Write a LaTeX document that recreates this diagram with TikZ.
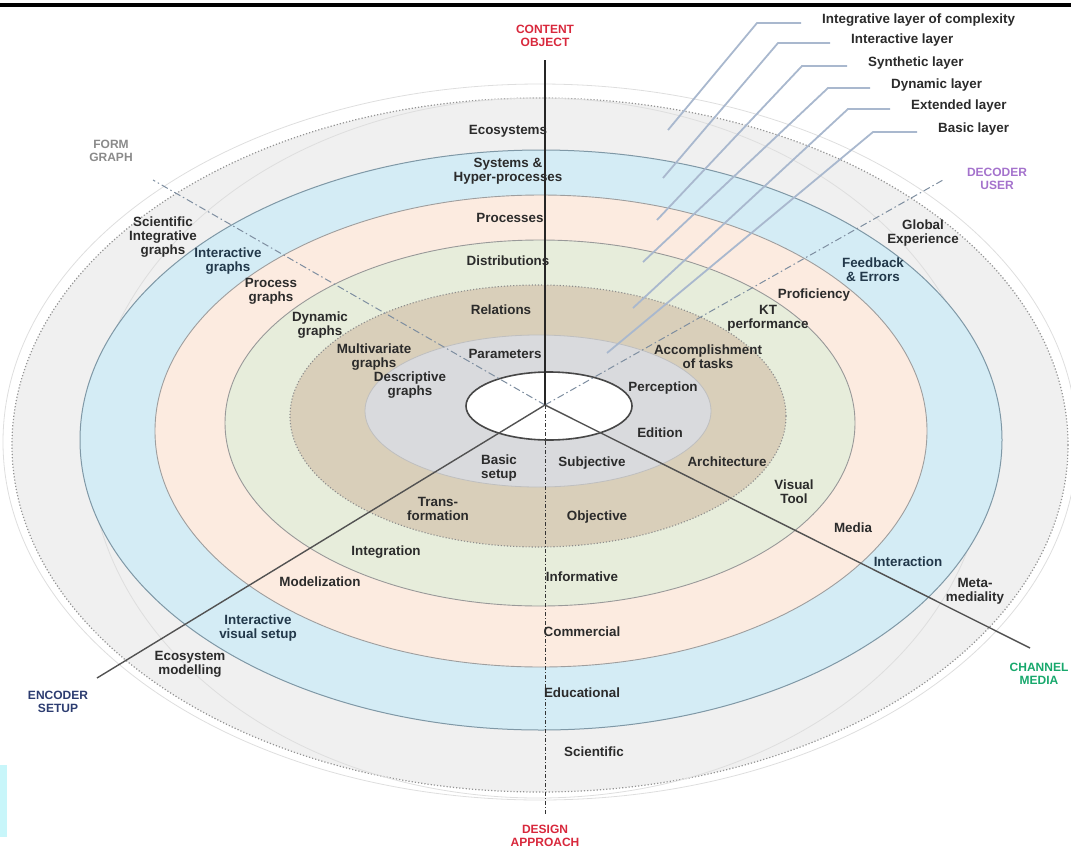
\documentclass[tikz,border=0pt]{standalone}
\usepackage{fontspec}
\setmainfont{Liberation Sans}
\usetikzlibrary{positioning}

\definecolor{ringout}{HTML}{F0F0F0}
\definecolor{ringblue}{HTML}{D4ECF5}
\definecolor{ringpeach}{HTML}{FCEBE0}
\definecolor{ringgreen}{HTML}{E7EDDB}
\definecolor{ringtan}{HTML}{D9CFBA}
\definecolor{ringgray}{HTML}{D9DADD}
\definecolor{blueedge}{HTML}{7F98A6}
\definecolor{bluetext}{HTML}{22384A}
\definecolor{axred}{HTML}{D8283C}
\definecolor{axnavy}{HTML}{2C3C70}
\definecolor{axpurple}{HTML}{A472CC}
\definecolor{axgreen}{HTML}{17A86C}
\definecolor{axgray}{HTML}{8A8A8A}
\definecolor{leadblue}{HTML}{A9B8CE}
\definecolor{dashaxis}{HTML}{7E8EA0}
\definecolor{edgecyan}{HTML}{C8F6FA}

\tikzset{
  ringlbl/.style={font=\bfseries\fontsize{13.4}{14}\selectfont, text=black!83, align=center, inner sep=0pt},
  bluelbl/.style={ringlbl, text=bluetext},
  axlbl/.style={font=\bfseries\fontsize{12}{13.5}\selectfont, align=center, inner sep=0pt},
  layerlbl/.style={font=\bfseries\fontsize{13.4}{14}\selectfont, text=black!83, inner sep=0pt, anchor=base west},
  leader/.style={draw=leadblue, line width=1.8pt, shorten >=21pt},
  formaxis/.style={draw=dashaxis, line width=1pt, dash pattern=on 7pt off 3pt on 1.5pt off 3pt},
  mainaxis/.style={draw=black!68, line width=1.4pt},
  designaxis/.style={draw=black!80, line width=1pt, dash pattern=on 4pt off 2pt on 1pt off 2pt},
  ghost/.style={draw=black!13, line width=0.8pt},
  ringoutst/.style={fill=ringout, draw=black!42, dotted, line width=1.2pt},
  ringbluest/.style={fill=ringblue, draw=blueedge, line width=1pt},
  ringpeachst/.style={fill=ringpeach, draw=black!38, line width=0.9pt},
  ringgreenst/.style={fill=ringgreen, draw=black!40, line width=0.9pt},
  ringtanst/.style={fill=ringtan, draw=black!45, dotted, line width=1.1pt},
  ringgrayst/.style={fill=ringgray, draw=black!25, line width=0.8pt},
  corest/.style={fill=white, draw=black!72, line width=1.6pt},
}

\begin{document}
\begin{tikzpicture}[x=1pt,y=-1pt]
  \useasboundingbox (0,0) rectangle (1071,852);
  \def\ox{545}
  \def\oy{405}

  % Page edges
  \fill[black] (0,3) rectangle (1071,7);
  \fill[edgecyan] (0,765) rectangle (7,837);

  % Rings
  \filldraw[ringoutst] (540,445) ellipse [x radius=528, y radius=347];
  \draw[ghost] (540,442) ellipse [x radius=537, y radius=358];
  \draw[ghost] (538,448) ellipse [x radius=449, y radius=350];
  \filldraw[ringbluest] (541,440) ellipse [x radius=461, y radius=290];
  \filldraw[ringpeachst] (541,431) ellipse [x radius=386, y radius=236];
  \filldraw[ringgreenst] (540,423) ellipse [x radius=315, y radius=183];
  \filldraw[ringtanst] (538,416) ellipse [x radius=248, y radius=131];
  \filldraw[ringgrayst] (538,411) ellipse [x radius=173, y radius=76];
  \filldraw[corest] (549,406) ellipse [x radius=83, y radius=34];

  % Axes
  \coordinate (O) at (\ox,\oy);
  \coordinate (ctop) at (\ox,60);
  \coordinate (cbot) at (\ox,815);
  \coordinate (fend) at (153,180);
  \coordinate (dend) at (943,180);
  \coordinate (eend) at (97,678);
  \coordinate (chend) at (1030,648);
  \draw[formaxis] (O) -- (fend);
  \draw[formaxis] (O) -- (dend);
  \draw[mainaxis, draw=black!85, line width=1.2pt] (O) -- (ctop);
  \draw[designaxis] (O) -- (cbot);
  \draw[mainaxis] (O) -- (eend);
  \draw[mainaxis] (O) -- (chend);

  \node[axlbl, text=axred] (cont) at (545,36) {CONTENT\\OBJECT};
  \node[axlbl, text=axgray] (form) at (111,151) {FORM\\GRAPH};
  \node[axlbl, text=axpurple] (deco) at (997,179) {DECODER\\USER};
  \node[axlbl, text=axnavy] (enco) at (58,702) {ENCODER\\SETUP};
  \node[axlbl, text=axgreen] (chan) at (1039,674) {CHANNEL\\MEDIA};
  \node[axlbl, text=axred] (desi) at (545,836) {DESIGN\\APPROACH};

  % Layers
  \node[layerlbl] (lint) at (822,23) {Integrative layer of complexity};
  \node[layerlbl] (lact) at (851,43) {Interactive layer};
  \node[layerlbl] (lsyn) at (868,66) {Synthetic layer};
  \node[layerlbl] (ldyn) at (891,88) {Dynamic layer};
  \node[layerlbl] (lext) at (911,109) {Extended layer};
  \node[layerlbl] (lbas) at (938,132) {Basic layer};
  \coordinate (kint) at (757,23);  \coordinate (eint) at (668,130);
  \coordinate (kact) at (778,43);  \coordinate (eact) at (663,178);
  \coordinate (ksyn) at (802,66);  \coordinate (esyn) at (657,220);
  \coordinate (kdyn) at (828,88);  \coordinate (edyn) at (643,262);
  \coordinate (kext) at (848,109); \coordinate (eext) at (633,308);
  \coordinate (kbas) at (873,132); \coordinate (ebas) at (607,353);
  \draw[leader] (eint) -- (kint) -- (lint.base west);
  \draw[leader] (eact) -- (kact) -- (lact.base west);
  \draw[leader] (esyn) -- (ksyn) -- (lsyn.base west);
  \draw[leader] (edyn) -- (kdyn) -- (ldyn.base west);
  \draw[leader] (eext) -- (kext) -- (lext.base west);
  \draw[leader] (ebas) -- (kbas) -- (lbas.base west);

  % Outer ring
  \node[ringlbl] (eco) at (508,131) {Ecosystems};
  \node[ringlbl] (scig) at (163,237) {Scientific\\Integrative\\graphs};
  \node[ringlbl] (glob) at (923,233) {Global\\Experience};
  \node[ringlbl] (meta) at (975,591) {Meta-\\mediality};
  \node[ringlbl] (ecom) at (190,664) {Ecosystem\\modelling};
  \node[ringlbl] (sci) at (594,752) {Scientific};
  % Blue ring
  \node[ringlbl] (sys) at (508,171) {Systems \&\\Hyper-processes};
  \node[bluelbl] (intg) at (228,261) {Interactive\\graphs};
  \node[bluelbl] (feed) at (873,270) {Feedback\\\& Errors};
  \node[bluelbl] (inter) at (908,562) {Interaction};
  \node[bluelbl] (ivs) at (258,628) {Interactive\\visual setup};
  \node[ringlbl] (edu) at (582,693) {Educational};
  % Peach ring
  \node[ringlbl] (proc) at (510,218) {Processes};
  \node[ringlbl] (procg) at (271,291) {Process\\graphs};
  \node[ringlbl] (prof) at (814,295) {Proficiency};
  \node[ringlbl] (media) at (853,528) {Media};
  \node[ringlbl] (model) at (320,582) {Modelization};
  \node[ringlbl] (comm) at (582,632) {Commercial};
  % Green ring
  \node[ringlbl] (dist) at (508,261) {Distributions};
  \node[ringlbl] (dyng) at (320,325) {Dynamic\\graphs};
  \node[ringlbl] (ktp) at (768,318) {KT\\performance};
  \node[ringlbl] (vis) at (794,492) {Visual\\Tool};
  \node[ringlbl] (integ) at (386,552) {Integration};
  \node[ringlbl] (info) at (582,577) {Informative};
  % Tan ring
  \node[ringlbl] (rel) at (501,310) {Relations};
  \node[ringlbl] (mvg) at (374,357) {Multivariate\\graphs};
  \node[ringlbl] (acc) at (708,357) {Accomplishment\\of tasks};
  \node[ringlbl] (arch) at (727,462) {Architecture};
  \node[ringlbl] (trans) at (438,509) {Trans-\\formation};
  \node[ringlbl] (obj) at (597,517) {Objective};
  % Gray ring
  \node[ringlbl] (par) at (505,354) {Parameters};
  \node[ringlbl] (desc) at (410,385) {Descriptive\\graphs};
  \node[ringlbl] (perc) at (663,388) {Perception};
  \node[ringlbl] (edit) at (660,433) {Edition};
  \node[ringlbl] (bas) at (499,468) {Basic\\setup};
  \node[ringlbl] (subj) at (592,463) {Subjective};
\end{tikzpicture}
\end{document}
